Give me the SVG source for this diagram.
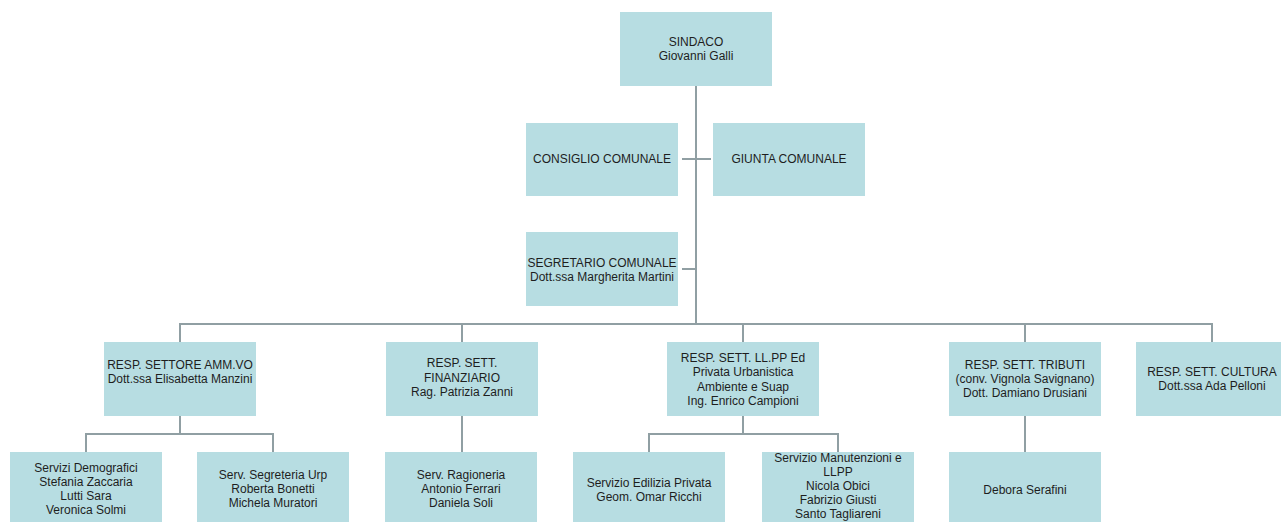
<svg xmlns="http://www.w3.org/2000/svg" width="1281" height="522" viewBox="0 0 1281 522">
<style>
.box{fill:#b7dde2;}
text{font-family:"Liberation Sans",Arial,sans-serif;font-size:12px;fill:#1e1e1e;text-anchor:middle;}
.c{stroke:#909fa3;stroke-width:2;fill:none;}
</style>
<rect width="1281" height="522" fill="#ffffff"/>
<g id="connectors">
<path class="c" d="M696,86 V324"/>
<path class="c" d="M682,159 H711"/>
<path class="c" d="M682,269 H696"/>
<path class="c" d="M179,324 H1213"/>
<path class="c" d="M180,324 V342 M462,324 V342 M743,324 V342 M1025,324 V342 M1212,324 V342"/>
<path class="c" d="M180,416 V434 M86,434 H274 M86,433 V452 M273,433 V452"/>
<path class="c" d="M462,416 V452"/>
<path class="c" d="M743,416 V434 M649,434 H838 M649,433 V452 M838,433 V452"/>
<path class="c" d="M1025,416 V452"/>
</g>
<g id="sindaco"><rect class="box" x="620" y="12" width="152" height="74"/><text x="696" y="46">SINDACO</text><text x="696" y="60">Giovanni Galli</text></g>
<g id="consiglio"><rect class="box" x="526" y="123" width="152" height="73"/><text x="602" y="163">CONSIGLIO COMUNALE</text></g>
<g id="giunta"><rect class="box" x="713" y="123" width="152" height="73"/><text x="789" y="163">GIUNTA COMUNALE</text></g>
<g id="segretario"><rect class="box" x="526" y="232" width="152" height="74"/><text x="602" y="267">SEGRETARIO COMUNALE</text><text x="602" y="281">Dott.ssa Margherita Martini</text></g>
<g id="ammvo"><rect class="box" x="104" y="342" width="152" height="74"/><text x="180" y="369">RESP. SETTORE AMM.VO</text><text x="180" y="383">Dott.ssa Elisabetta Manzini</text></g>
<g id="finanziario"><rect class="box" x="386" y="342" width="152" height="74"/><text x="462" y="367">RESP. SETT.</text><text x="462" y="382">FINANZIARIO</text><text x="462" y="396">Rag. Patrizia Zanni</text></g>
<g id="llpp"><rect class="box" x="667" y="342" width="152" height="74"/><text x="743" y="362">RESP. SETT. LL.PP Ed</text><text x="743" y="376">Privata Urbanistica</text><text x="743" y="391">Ambiente e Suap</text><text x="743" y="405">Ing. Enrico Campioni</text></g>
<g id="tributi"><rect class="box" x="949" y="342" width="152" height="74"/><text x="1025" y="369">RESP. SETT. TRIBUTI</text><text x="1025" y="383">(conv. Vignola Savignano)</text><text x="1025" y="397">Dott. Damiano Drusiani</text></g>
<g id="cultura"><rect class="box" x="1136" y="342" width="152" height="74"/><text x="1212" y="376">RESP. SETT. CULTURA</text><text x="1212" y="390">Dott.ssa Ada Pelloni</text></g>
<g id="demografici"><rect class="box" x="10" y="452" width="152" height="76"/><text x="86" y="472">Servizi Demografici</text><text x="86" y="486">Stefania Zaccaria</text><text x="86" y="500">Lutti Sara</text><text x="86" y="514">Veronica Solmi</text></g>
<g id="segreteria"><rect class="box" x="197" y="452" width="152" height="76"/><text x="273" y="479">Serv. Segreteria Urp</text><text x="273" y="493">Roberta Bonetti</text><text x="273" y="507">Michela Muratori</text></g>
<g id="ragioneria"><rect class="box" x="385" y="452" width="152" height="76"/><text x="461" y="479">Serv. Ragioneria</text><text x="461" y="493">Antonio Ferrari</text><text x="461" y="507">Daniela Soli</text></g>
<g id="edilizia"><rect class="box" x="573" y="452" width="152" height="76"/><text x="649" y="487">Servizio Edilizia Privata</text><text x="649" y="501">Geom. Omar Ricchi</text></g>
<g id="manutenzioni"><rect class="box" x="762" y="452" width="152" height="76"/><text x="838" y="462">Servizio Manutenzioni e</text><text x="838" y="476">LLPP</text><text x="838" y="490">Nicola Obici</text><text x="838" y="504">Fabrizio Giusti</text><text x="838" y="518">Santo Tagliareni</text></g>
<g id="debora"><rect class="box" x="949" y="452" width="152" height="76"/><text x="1025" y="494">Debora Serafini</text></g>
</svg>
